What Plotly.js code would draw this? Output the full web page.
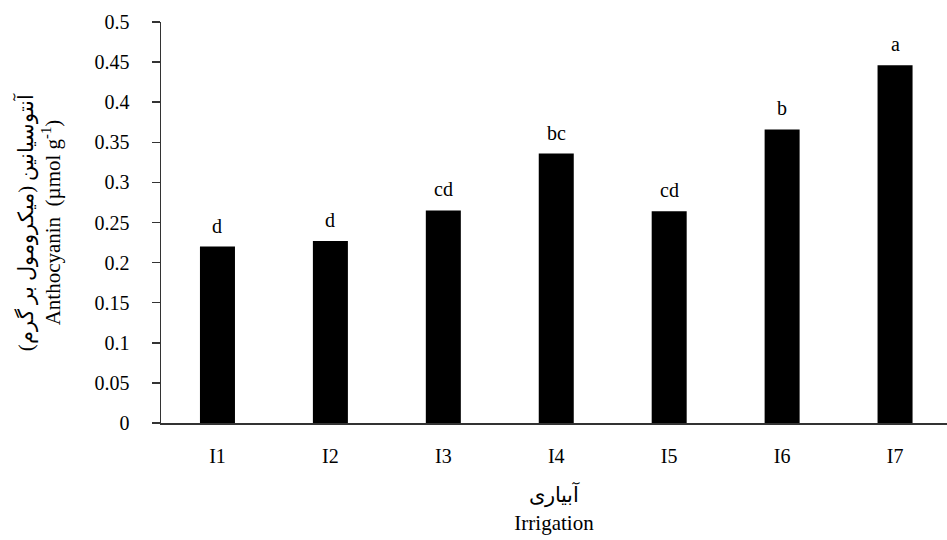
<!DOCTYPE html>
<html>
<head>
<meta charset="utf-8">
<script src="https://cdn.plot.ly/plotly-3.0.1.min.js"></script>
<style>html,body{margin:0;padding:0;background:#fff;}#chart{width:947px;height:540px;}</style>
</head>
<body>
<div id="chart"></div>
<script>
const categories = ['I1','I2','I3','I4','I5','I6','I7'];
const anthocyanin = [0.220, 0.227, 0.265, 0.336, 0.264, 0.366, 0.446];
const letters = ['d','d','cd','bc','cd','b','a'];
const yTickVals = [0, 0.05, 0.1, 0.15, 0.2, 0.25, 0.3, 0.35, 0.4, 0.45, 0.5];
const yTickText = ['0','0.05','0.1','0.15','0.2','0.25','0.3','0.35','0.4','0.45','0.5'];

const serif = 'Liberation Serif, Times New Roman, serif';

const trace = {
  type: 'bar',
  x: categories,
  y: anthocyanin,
  marker: {color: '#000000'},
  width: 0.31,
  hoverinfo: 'skip'
};

const annotations = categories.map((c, i) => ({
  x: c, y: anthocyanin[i], text: letters[i],
  showarrow: false, yanchor: 'bottom', yshift: 8,
  font: {family: serif, size: 20, color: '#000'}
}));

const layout = {
  width: 947, height: 540,
  margin: {l: 161, r: 0, t: 22, b: 117},
  paper_bgcolor: '#fff', plot_bgcolor: '#fff',
  showlegend: false,
  font: {family: serif, color: '#000', size: 20},
  xaxis: {
    type: 'category',
    range: [-0.5, 6.46],
    showline: true, linecolor: '#333', linewidth: 1.5,
    ticks: '', showgrid: false, zeroline: false,
    tickfont: {family: serif, size: 20, color: '#000'},
    ticklabelstandoff: 14,
    title: {text: 'آبیاری<br>Irrigation', font: {family: serif, size: 21, color: '#000'}, standoff: 22}
  },
  yaxis: {
    range: [0, 0.5],
    tickvals: yTickVals, ticktext: yTickText,
    showline: true, linecolor: '#333', linewidth: 1.5,
    ticks: 'outside', ticklen: 8, tickcolor: '#333', tickwidth: 1.5,
    ticklabelstandoff: 18,
    showgrid: false, zeroline: false,
    tickfont: {family: serif, size: 20, color: '#000'},
    title: {text: 'آنتوسیانین (میکرومول بر گرم)<br>Anthocyanin  (µmol g<sup>-1</sup>)', font: {family: serif, size: 21, color: '#000'}, standoff: 28}
  },
  annotations: annotations
};

Plotly.newPlot('chart', [trace], layout, {displayModeBar: false, staticPlot: true});
</script>
</body>
</html>
